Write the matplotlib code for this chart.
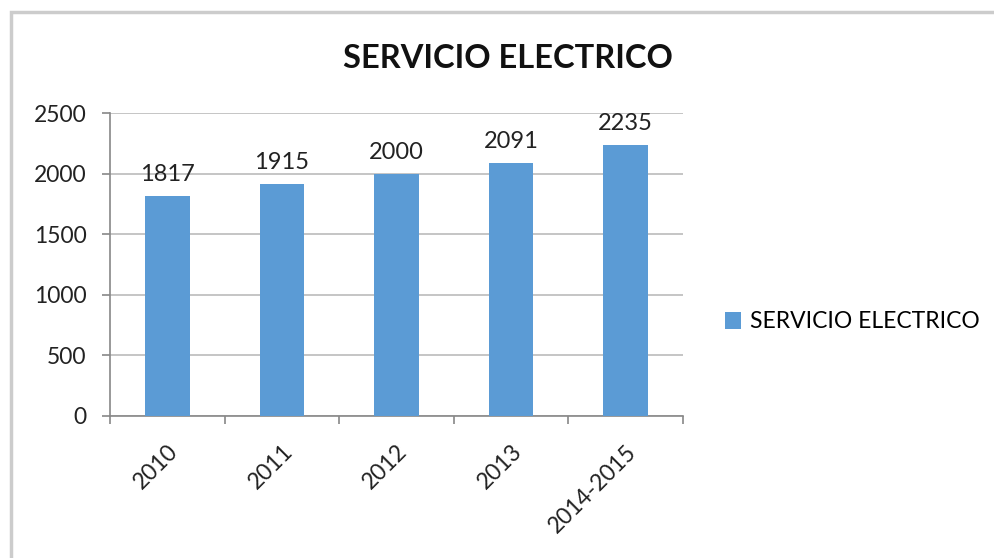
import matplotlib.pyplot as plt
from matplotlib.patches import Rectangle

categories = ['2010', '2011', '2012', '2013', '2014-2015']
values = [1817, 1915, 2000, 2091, 2235]
series_name = 'SERVICIO ELECTRICO'
yticks = [0, 500, 1000, 1500, 2000, 2500]

plt.rcParams['font.family'] = ['Lato', 'DejaVu Sans']

fig = plt.figure(figsize=(9.95, 5.58), dpi=100)
ax = fig.add_axes([110 / 995, 1 - 416 / 558, 573 / 995, 303 / 558])

x = list(range(len(categories)))
bars = ax.bar(x, values, width=0.39, color='#5B9BD5', label=series_name, zorder=3)
for b, v in zip(bars, values):
    ax.text(b.get_x() + b.get_width() / 2, v + 90, str(v), ha='center', va='bottom',
            fontsize=17, color='#222222')

ax.set_xlim(-0.5, len(categories) - 0.5)
ax.set_ylim(0, 2500)
ax.set_yticks(yticks)
ax.set_yticklabels([str(t) for t in yticks], fontsize=16.5, color='#222222')
ax.yaxis.grid(True, color='#BBBBBB', linewidth=1.2, zorder=0)

# category labels between boundary ticks
ax.set_xticks([i - 0.5 for i in range(len(categories) + 1)], minor=False)
ax.set_xticklabels([''] * (len(categories) + 1))
ax.set_xticks(x, minor=True)
ax.set_xticklabels(categories, minor=True, rotation=45, ha='right',
                   rotation_mode='anchor', fontsize=16.5, color='#222222')
ax.tick_params(axis='x', which='minor', length=0, pad=18)
ax.tick_params(axis='x', which='major', length=6, width=1.2, color='#888888', direction='out')
ax.tick_params(axis='y', length=6, width=1.2, color='#888888', direction='out', pad=11)

for s in ['top', 'right']:
    ax.spines[s].set_visible(False)
for s in ['left', 'bottom']:
    ax.spines[s].set_color('#888888')
    ax.spines[s].set_linewidth(1.2)

fig.text(508 / 995, 1 - 58 / 558, series_name, ha='center', va='center',
         fontsize=23.5, fontweight='bold', color='#111111')

ax.legend(loc='center left', bbox_to_anchor=(704 / 995, 1 - 322 / 558),
          bbox_transform=fig.transFigure, frameon=False, fontsize=16.5,
          handlelength=0.7, handleheight=0.7, handletextpad=0.4)

fig.patches.append(Rectangle((11.5 / 995, -0.1), 1.2, 1.1 - 12 / 558,
                             transform=fig.transFigure, fill=False,
                             edgecolor='#CCCCCC', linewidth=2.5))

fig.savefig('out.png', dpi=100)
